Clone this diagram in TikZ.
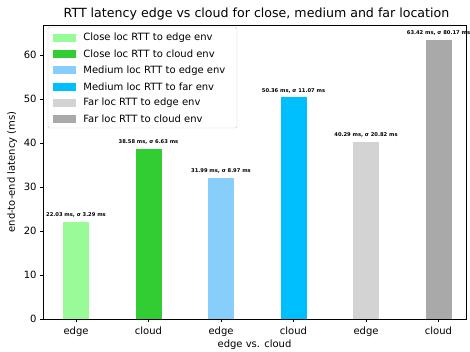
\documentclass[tikz,border=0pt]{standalone}
\usepackage{fontspec}
\setmainfont{DejaVu Sans}
\usepackage{xcolor}
\usepackage{tikz}
\usetikzlibrary{positioning}

\definecolor{palegreen}{RGB}{152,251,152}
\definecolor{limegreen}{RGB}{50,205,50}
\definecolor{lightskyblue}{RGB}{135,206,250}
\definecolor{deepskyblue}{RGB}{0,191,255}
\definecolor{lightgrey}{RGB}{211,211,211}
\definecolor{darkgrey}{RGB}{169,169,169}

\begin{document}
\begin{tikzpicture}[x=1pt, y=1pt, node distance = 3pt,
    bar/.style={rectangle, minimum width=26pt, inner sep=0pt, anchor=south},
    val/.style={font=\bfseries\fontsize{5.2}{6}\selectfont, inner sep=1pt},
    ticklabel/.style={font=\fontsize{10}{12}\selectfont, inner sep=0pt},
    patch/.style={rectangle, minimum width=23pt, minimum height=8pt, inner sep=0pt},
    entry/.style={font=\fontsize{10}{12}\selectfont, anchor=west, inner sep=0pt}]
                            \useasboundingbox (0,0) rectangle (470,352);

                            % bars
                            \node (CE) [bar, fill=palegreen, minimum height=96.93pt] at (76,33) {};
                            \node (CC) [bar, fill=limegreen, minimum height=169.75pt] at (148.5,33) {};
                            \node (ME) [bar, fill=lightskyblue, minimum height=140.76pt] at (221,33) {};
                            \node (MC) [bar, fill=deepskyblue, minimum height=221.58pt] at (293.5,33) {};
                            \node (FE) [bar, fill=lightgrey, minimum height=177.28pt] at (366,33) {};
                            \node (FC) [bar, fill=darkgrey, minimum height=279.05pt] at (438.5,33) {};

                            \node (VCE) [val, above = of CE] {22.03 ms, σ 3.29 ms};
                            \node (VCC) [val, above = of CC] {38.58 ms, σ 6.63 ms};
                            \node (VME) [val, above = of ME] {31.99 ms, σ 8.97 ms};
                            \node (VMC) [val, above = of MC] {50.36 ms, σ 11.07 ms};
                            \node (VFE) [val, above = of FE] {40.29 ms, σ 20.82 ms};
                            \node (VFC) [val, above = of FC] {63.42 ms, σ 80.17 ms};

                            % axes
                            \draw [line width=0.8pt] (43,33) rectangle (466,327);

                            \draw [line width=0.8pt] (43,33) -- ++(-3.5,0) node (Y0) [ticklabel, left=2.5pt] {0};
                            \draw [line width=0.8pt] (43,77) -- ++(-3.5,0) node (Y10) [ticklabel, left=2.5pt] {10};
                            \draw [line width=0.8pt] (43,121) -- ++(-3.5,0) node (Y20) [ticklabel, left=2.5pt] {20};
                            \draw [line width=0.8pt] (43,165) -- ++(-3.5,0) node (Y30) [ticklabel, left=2.5pt] {30};
                            \draw [line width=0.8pt] (43,209) -- ++(-3.5,0) node (Y40) [ticklabel, left=2.5pt] {40};
                            \draw [line width=0.8pt] (43,253) -- ++(-3.5,0) node (Y50) [ticklabel, left=2.5pt] {50};
                            \draw [line width=0.8pt] (43,297) -- ++(-3.5,0) node (Y60) [ticklabel, left=2.5pt] {60};

                            \draw [line width=0.8pt] (76,33) -- ++(0,-3.5);
                            \draw [line width=0.8pt] (148.5,33) -- ++(0,-3.5);
                            \draw [line width=0.8pt] (221,33) -- ++(0,-3.5);
                            \draw [line width=0.8pt] (293.5,33) -- ++(0,-3.5);
                            \draw [line width=0.8pt] (366,33) -- ++(0,-3.5);
                            \draw [line width=0.8pt] (438.5,33) -- ++(0,-3.5);

                            \node (XCE) [ticklabel, anchor=base] at (76,17) {edge};
                            \node (XCC) [ticklabel, anchor=base] at (148.5,17) {cloud};
                            \node (XME) [ticklabel, anchor=base] at (221,17) {edge};
                            \node (XMC) [ticklabel, anchor=base] at (293.5,17) {cloud};
                            \node (XFE) [ticklabel, anchor=base] at (366,17) {edge};
                            \node (XFC) [ticklabel, anchor=base] at (438.5,17) {cloud};

                            \node (XL) [ticklabel, anchor=base] at (254.5,4) {edge vs. cloud};
                            \node (YL) [ticklabel, rotate=90] at (12,180) {end-to-end latency (ms)};
                            \node (T) [anchor=base, inner sep=0pt, font=\fontsize{12.6}{14}\selectfont] at (256.5,334) {RTT latency edge vs cloud for close, medium and far location};

                            % legend
                            \draw [draw=black!20, fill=white, fill opacity=0.8, rounded corners=2pt] (48,224) rectangle (237,325);
                            \node (P1) [patch, fill=palegreen] at (64.5,314) {};
                            \node (P2) [patch, fill=limegreen, below = 7.8pt of P1] {};
                            \node (P3) [patch, fill=lightskyblue, below = 7.8pt of P2] {};
                            \node (P4) [patch, fill=deepskyblue, below = 7.8pt of P3] {};
                            \node (P5) [patch, fill=lightgrey, below = 7.8pt of P4] {};
                            \node (P6) [patch, fill=darkgrey, below = 7.8pt of P5] {};

                            \node (L1) [entry, right = 7pt of P1] {Close loc RTT to edge env};
                            \node (L2) [entry, right = 7pt of P2] {Close loc RTT to cloud env};
                            \node (L3) [entry, right = 7pt of P3] {Medium loc RTT to edge env};
                            \node (L4) [entry, right = 7pt of P4] {Medium loc RTT to far env};
                            \node (L5) [entry, right = 7pt of P5] {Far loc RTT to edge env};
                            \node (L6) [entry, right = 7pt of P6] {Far loc RTT to cloud env};
                        \end{tikzpicture}
\end{document}
